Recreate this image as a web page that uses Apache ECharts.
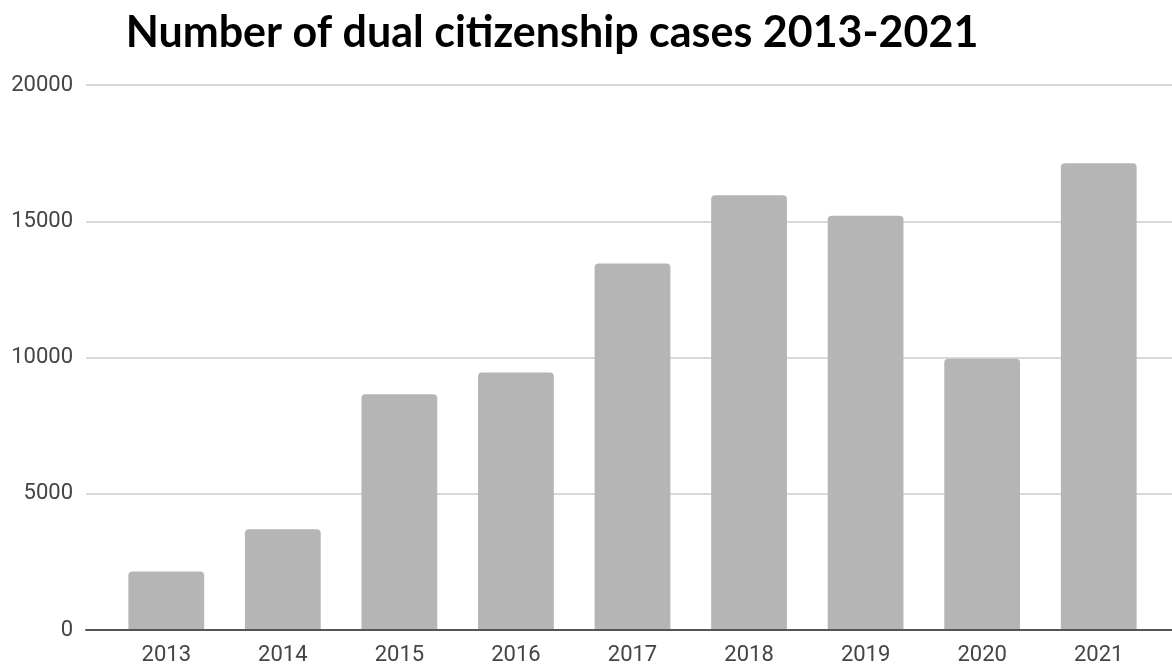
<!DOCTYPE html>
<html>
<head>
<meta charset="utf-8">
<title>Number of dual citizenship cases 2013-2021</title>
<script src="https://cdn.jsdelivr.net/npm/echarts@6/dist/echarts.min.js"></script>
<style>
  html, body { margin: 0; padding: 0; background: #ffffff; }
  #chart { width: 1172px; height: 670px; }
</style>
</head>
<body>
<div id="chart"></div>
<script>
// Chart data
const years = ['2013', '2014', '2015', '2016', '2017', '2018', '2019', '2020', '2021'];
const cases = [2150, 3700, 8650, 9450, 13450, 15950, 15200, 9950, 17130];
const yTicks = [0, 5000, 10000, 15000, 20000];

const yMin = yTicks[0];
const yMax = yTicks[yTicks.length - 1];
const yStep = yTicks[1] - yTicks[0];

const labelFont = 'Roboto, "Liberation Sans", Arial, sans-serif';
const chart = echarts.init(document.getElementById('chart'), null, { renderer: 'canvas' });

chart.setOption({
  animation: false,
  backgroundColor: '#ffffff',
  title: {
    text: 'Number of dual citizenship cases 2013-2021',
    left: 547,
    top: 7,
    textAlign: 'center',
    textStyle: {
      fontFamily: 'Lato, "Open Sans", sans-serif',
      fontWeight: 'bold',
      fontSize: 43,
      color: '#000000'
    }
  },
  grid: [
    // background grid: value gridlines and baseline across the full width
    { left: 86, right: 0, top: 85, bottom: 40 },
    // bar grid
    { left: 108, right: 15, top: 85, bottom: 40 }
  ],
  xAxis: [
    {
      gridIndex: 0, type: 'value', min: 0, max: 1,
      axisLine: { show: true, lineStyle: { color: '#555555', width: 2 } },
      axisTick: { show: false }, axisLabel: { show: false }, splitLine: { show: false },
      z: 10
    },
    {
      gridIndex: 1, type: 'category', data: years,
      axisLine: { show: false }, axisTick: { show: false },
      axisLabel: {
        margin: 14,
        fontFamily: labelFont,
        fontSize: 22,
        color: '#444444'
      }
    }
  ],
  yAxis: [
    {
      gridIndex: 0, type: 'value', min: yMin, max: yMax, interval: yStep,
      axisLine: { show: false }, axisTick: { show: false },
      axisLabel: {
        margin: 13,
        fontFamily: labelFont,
        fontSize: 22,
        color: '#444444',
        formatter: (v) => String(v)
      },
      splitLine: { show: true, lineStyle: { color: '#d9d9d9', width: 2 } }
    },
    {
      gridIndex: 1, type: 'value', min: yMin, max: yMax, interval: yStep,
      show: false
    }
  ],
  series: [
    {
      type: 'bar',
      xAxisIndex: 1,
      yAxisIndex: 1,
      data: cases,
      barCategoryGap: '35%',
      itemStyle: {
        color: '#b5b5b5',
        borderRadius: [4, 4, 0, 0]
      }
    }
  ]
});
</script>
</body>
</html>
